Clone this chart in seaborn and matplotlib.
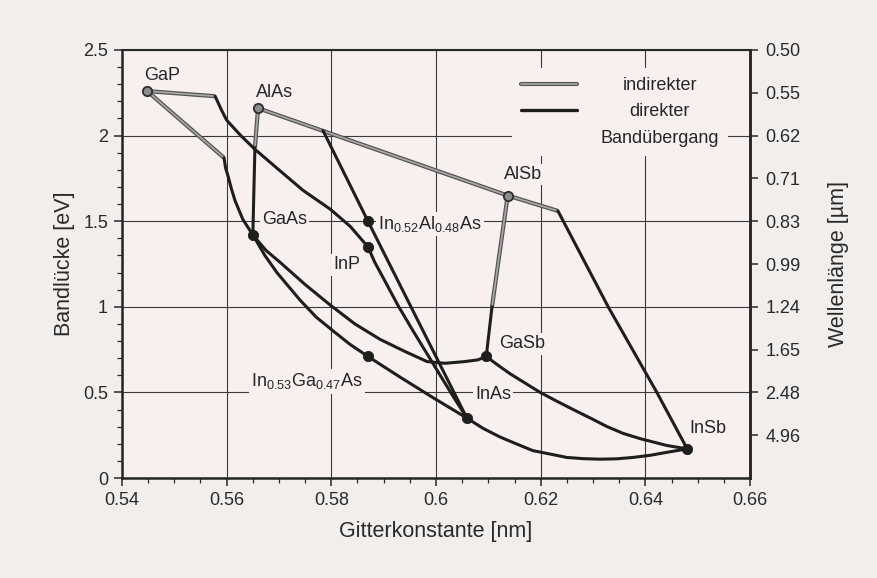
import numpy as np
import pandas as pd
import matplotlib
matplotlib.use("Agg")
import matplotlib.pyplot as plt
import matplotlib.patheffects as pe
from matplotlib.lines import Line2D
from matplotlib.ticker import MultipleLocator, FormatStrFormatter
import seaborn as sns

# binary compounds: lattice constant [nm] and band gap [eV]
compounds = ["GaP", "AlAs", "AlSb", "GaAs", "InP", "GaSb", "InAs", "InSb"]
comp_a = [0.5448, 0.5660, 0.6137, 0.5650, 0.5870, 0.6096, 0.6059, 0.6480]
comp_eg = [2.26, 2.16, 1.65, 1.42, 1.35, 0.71, 0.35, 0.17]
comp_indirect = [True, True, True, False, False, False, False, False]

# lattice matched ternaries on InP
tern_names = ["In$_{0.52}$Al$_{0.48}$As", "In$_{0.53}$Ga$_{0.47}$As"]
tern_a = [0.5870, 0.5870]
tern_eg = [1.50, 0.71]

# alloy curves (indirect part, then direct part)
gap_inp_ind_a = [0.5448, 0.5578]
gap_inp_ind_eg = [2.26, 2.23]
gap_inp_a = [0.5578, 0.5590, 0.5600, 0.5627, 0.5654, 0.5696, 0.5746, 0.5798, 0.5836, 0.5870]
gap_inp_eg = [2.23, 2.15, 2.09, 2.00, 1.92, 1.81, 1.68, 1.57, 1.47, 1.35]

gap_gaas_ind_a = [0.5448, 0.5595]
gap_gaas_ind_eg = [2.26, 1.87]
gap_gaas_a = [0.5595, 0.5598, 0.5603, 0.5609, 0.5616, 0.5631, 0.5650]
gap_gaas_eg = [1.87, 1.81, 1.76, 1.69, 1.62, 1.51, 1.42]

alas_gaas_ind_a = [0.5660, 0.5654]
alas_gaas_ind_eg = [2.16, 1.93]
alas_gaas_a = [0.5654, 0.5650]
alas_gaas_eg = [1.93, 1.42]

alas_alsb_ind_a = [0.5660, 0.6137]
alas_alsb_ind_eg = [2.16, 1.65]

alas_inas_a = [0.5784, 0.5870, 0.6059]
alas_inas_eg = [2.03, 1.50, 0.35]

alsb_insb_ind_a = [0.6137, 0.6233]
alsb_insb_ind_eg = [1.65, 1.56]
alsb_insb_a = [0.6233, 0.6329, 0.6422, 0.6480]
alsb_insb_eg = [1.56, 1.00, 0.50, 0.17]

alsb_gasb_ind_a = [0.6137, 0.6107]
alsb_gasb_ind_eg = [1.65, 1.00]
alsb_gasb_a = [0.6107, 0.6096]
alsb_gasb_eg = [1.00, 0.71]

gaas_gasb_a = [0.5650, 0.5675, 0.5702, 0.5750, 0.5798, 0.5845, 0.5893, 0.5940,
               0.5983, 0.6017, 0.6055, 0.6080, 0.6096]
gaas_gasb_eg = [1.42, 1.33, 1.26, 1.13, 1.01, 0.90, 0.81, 0.74,
                0.68, 0.67, 0.68, 0.69, 0.71]

gaas_inas_a = [0.5650, 0.5673, 0.5696, 0.5740, 0.5771, 0.5803, 0.5836, 0.5870,
               0.5931, 0.5994, 0.6059]
gaas_inas_eg = [1.42, 1.30, 1.20, 1.04, 0.94, 0.86, 0.78, 0.71,
                0.59, 0.47, 0.35]

inp_inas_a = [0.5870, 0.5883, 0.5899, 0.5927, 0.5956, 0.6002, 0.6030, 0.6059]
inp_inas_eg = [1.35, 1.26, 1.17, 1.01, 0.86, 0.63, 0.49, 0.35]

gasb_insb_a = [0.6096, 0.6118, 0.6141, 0.6170, 0.6199, 0.6230, 0.6262, 0.6295,
               0.6327, 0.6358, 0.6390, 0.6441, 0.6480]
gasb_insb_eg = [0.71, 0.66, 0.61, 0.555, 0.50, 0.45, 0.40, 0.35,
                0.30, 0.26, 0.23, 0.19, 0.17]

inas_insb_a = [0.6059, 0.6090, 0.6122, 0.6153, 0.6185, 0.6218, 0.6250, 0.6282,
               0.6313, 0.6345, 0.6376, 0.6410, 0.6441, 0.6480]
inas_insb_eg = [0.35, 0.29, 0.24, 0.20, 0.16, 0.14, 0.12, 0.113,
                0.11, 0.112, 0.12, 0.133, 0.15, 0.17]

# right axis: wavelength labels at these band gaps
wl_eg = [2.5, 2.25, 2.0, 1.75, 1.5, 1.25, 1.0, 0.75, 0.5, 0.25]
wl_labels = ["0.50", "0.55", "0.62", "0.71", "0.83", "0.99", "1.24", "1.65", "2.48", "4.96"]

segments = [
    ("indirekt", gap_inp_ind_a, gap_inp_ind_eg), ("direkt", gap_inp_a, gap_inp_eg),
    ("indirekt", gap_gaas_ind_a, gap_gaas_ind_eg), ("direkt", gap_gaas_a, gap_gaas_eg),
    ("indirekt", alas_gaas_ind_a, alas_gaas_ind_eg), ("direkt", alas_gaas_a, alas_gaas_eg),
    ("indirekt", alas_alsb_ind_a, alas_alsb_ind_eg), ("direkt", alas_inas_a, alas_inas_eg),
    ("indirekt", alsb_insb_ind_a, alsb_insb_ind_eg), ("direkt", alsb_insb_a, alsb_insb_eg),
    ("indirekt", alsb_gasb_ind_a, alsb_gasb_ind_eg), ("direkt", alsb_gasb_a, alsb_gasb_eg),
    ("direkt", gaas_gasb_a, gaas_gasb_eg), ("direkt", gaas_inas_a, gaas_inas_eg),
    ("direkt", inp_inas_a, inp_inas_eg), ("direkt", gasb_insb_a, gasb_insb_eg),
    ("direkt", inas_insb_a, inas_insb_eg),
]
df = pd.concat(
    [pd.DataFrame({"a": a, "eg": eg, "kind": k, "seg": i}) for i, (k, a, eg) in enumerate(segments)],
    ignore_index=True,
)

FIG_BG = "#f1eeec"
AX_BG = "#f8f0ef"
INK = "#1e1e1e"
GREY = "#a9a9a9"
grey_fx = [pe.Stroke(linewidth=3.0, foreground="#555555"), pe.Normal()]

sns.set_style("ticks")
plt.rcParams["font.family"] = ["Liberation Sans", "DejaVu Sans"]
plt.rcParams["mathtext.default"] = "regular"

fig = plt.figure(figsize=(8.77, 5.78), dpi=100, facecolor=FIG_BG)
ax = fig.add_axes([0.1391, 0.1730, 0.7161, 0.7405], facecolor=AX_BG)

# alloy lines
sns.lineplot(data=df[df.kind == "indirekt"], x="a", y="eg", units="seg", estimator=None,
             sort=False, color=GREY, lw=1.2, path_effects=grey_fx, ax=ax, zorder=3,
             solid_capstyle="butt")
sns.lineplot(data=df[df.kind == "direkt"], x="a", y="eg", units="seg", estimator=None,
             sort=False, color=INK, lw=2.2, ax=ax, zorder=4,
             solid_capstyle="round", solid_joinstyle="round")

# points
ind = np.array(comp_indirect)
sns.scatterplot(x=np.array(comp_a)[ind], y=np.array(comp_eg)[ind], s=45, color="#8c8c8c",
                edgecolor="#2e2e2e", linewidth=1.3, ax=ax, zorder=6, legend=False)
sns.scatterplot(x=np.array(comp_a)[~ind], y=np.array(comp_eg)[~ind], s=55, color=INK,
                edgecolor=INK, ax=ax, zorder=6, legend=False)
sns.scatterplot(x=tern_a, y=tern_eg, s=55, color=INK, edgecolor=INK, ax=ax, zorder=6, legend=False)

# labels (offsets in points from the point)
box = dict(fc=AX_BG, ec="none", pad=1.5)
comp_offsets = {
    "GaP": (11, 11, "center"), "AlAs": (12, 11, "center"), "AlSb": (11, 15, "center"),
    "GaAs": (23, 11, "center"), "InP": (-15, -13, "center"), "GaSb": (26, 9, "center"),
    "InAs": (19, 17, "center"), "InSb": (15, 15, "center"),
}
for name, a, eg in zip(compounds, comp_a, comp_eg):
    dx, dy, ha = comp_offsets[name]
    ax.annotate(name, (a, eg), xytext=(dx, dy), textcoords="offset points", ha=ha,
                va="center", fontsize=13, color="#262626", bbox=box, zorder=2)
tern_offsets = [(7, -2, "left"), (-84, -18, "left")]
for name, a, eg, (dx, dy, ha) in zip(tern_names, tern_a, tern_eg, tern_offsets):
    ax.annotate(name, (a, eg), xytext=(dx, dy), textcoords="offset points", ha=ha,
                va="center", fontsize=13, color="#262626", bbox=box, zorder=2)

# axes
ax.set_xlim(0.54, 0.66)
ax.set_ylim(0, 2.5)
ax.xaxis.set_major_locator(MultipleLocator(0.02))
ax.xaxis.set_minor_locator(MultipleLocator(0.005))
ax.xaxis.set_major_formatter(FormatStrFormatter("%g"))
ax.yaxis.set_major_locator(MultipleLocator(0.5))
ax.yaxis.set_minor_locator(MultipleLocator(0.1))
ax.yaxis.set_major_formatter(FormatStrFormatter("%g"))
ax.set_axisbelow(True)
ax.grid(True, which="major", color="#3a3a3a", lw=0.8)
ax.tick_params(which="major", direction="out", length=6, width=1.1, labelsize=13,
               colors="#2a2a2a", pad=4)
ax.tick_params(which="minor", direction="out", length=3.5, width=0.9, colors="#2a2a2a")
for side in ["left", "bottom", "right"]:
    ax.spines[side].set_linewidth(1.8)
    ax.spines[side].set_color("#252525")
ax.spines["top"].set_linewidth(1.5)
ax.spines["top"].set_color("#2a2a2a")
ax.set_xlabel("Gitterkonstante [nm]", fontsize=15.5, color="#2a2a2a", labelpad=9)
ax.set_ylabel("Bandlücke [eV]", fontsize=15.5, color="#2a2a2a", labelpad=6)

ax2 = ax.twinx()
ax2.set_ylim(0, 2.5)
ax2.set_yticks(wl_eg)
ax2.set_yticklabels(wl_labels)
ax2.tick_params(direction="out", length=6, width=1.1, labelsize=13, colors="#2a2a2a", pad=5)
for side in ["left", "top", "bottom"]:
    ax2.spines[side].set_visible(False)
ax2.spines["right"].set_linewidth(1.8)
ax2.spines["right"].set_color("#252525")
ax2.set_ylabel("Wellenlänge [µm]", fontsize=15.5, color="#2a2a2a", labelpad=20)

# legend
handles = [Line2D([], [], color=GREY, lw=1.2, path_effects=grey_fx),
           Line2D([], [], color=INK, lw=2.4),
           Line2D([], [], color="none")]
leg = ax2.legend(handles, ["indirekter", "direkter", "Bandübergang"], loc="upper left",
                 bbox_to_anchor=(0.621, 0.958), borderaxespad=0, frameon=True,
                 fancybox=False, facecolor=AX_BG, edgecolor="none", framealpha=1,
                 fontsize=13, handlelength=3.1, handletextpad=1.3, labelspacing=0.52,
                 borderpad=0.5)
for t in leg.get_texts():
    t.set_color("#262626")

# centre the legend texts on the widest one
fig.canvas.draw()
r = fig.canvas.get_renderer()
widths = [t.get_window_extent(r).width for t in leg.get_texts()]
for t, w in zip(leg.get_texts(), widths):
    t.set_position(((max(widths) - w) / 2, 0))

fig.savefig("out.png", dpi=100, facecolor=FIG_BG)
